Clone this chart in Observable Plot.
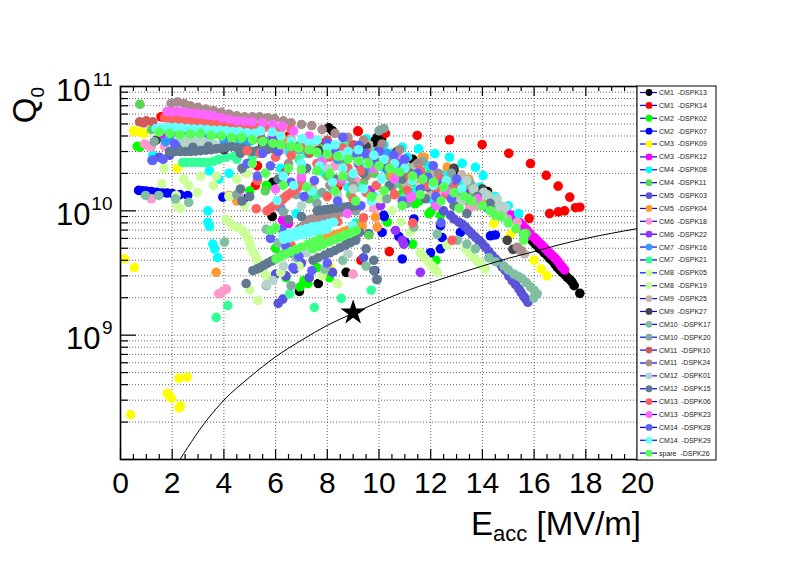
<!DOCTYPE html>
<html>
<head>
<meta charset="utf-8">
<script src="https://cdn.jsdelivr.net/npm/d3@7"></script>
<script src="https://cdn.jsdelivr.net/npm/@observablehq/plot@0.6"></script>
<style>
  html, body { margin: 0; padding: 0; background: #fff; }
  #chart { width: 798px; height: 575px; }
  svg text { font-family: "Liberation Sans", Arial, Helvetica, sans-serif; }
</style>
</head>
<body>
<div id="chart"></div>
<script>
// ---------------- data: [E_acc (MV/m), Q0] per cavity ----------------
const CM1_DSPK13 = [[8.06,4.65e10],[8.2,4.4e10],[9.93,3.9e10],[9.8,3.6e10],[9.78,3.5e10],[10.1,3.75e10],[5.9,1.7e10],[5.87,9.0e9],[7.65,2.6e9],[8.73,3.2e9],[6.92,2.25e9],[14.2,1.43e10],[12.9,2.1e10],[11.3,2.6e10],
  [15.6,6.5e9],[15.75,6.2e9],[15.86,5.96e9],[15.92,5.8e9],[15.99,5.6e9],[16.05,5.4e9],[16.12,5.26e9],[16.2,5.0e9],[16.31,4.8e9],[16.4,4.6e9],[16.51,4.37e9],[16.6,4.15e9],[16.7,3.98e9],[16.8,3.75e9],[16.89,3.52e9],[17.0,3.35e9],[17.09,3.2e9],[17.2,3.05e9],[17.28,2.92e9],[17.38,2.8e9],[17.47,2.67e9],[17.55,2.5e9],[17.77,2.17e9]];
const CM1_DSPK14 = [[1.57,5.7e10],[2.0,5.6e10],[3.76,5.5e10],[4.3,5.2e10],[6.5,4.0e10],[7.8,3.5e10],[9.18,4.4e10],[9.2,4.35e10],[10.25,4.2e10],[5.22,1.6e10],[5.3,2.3e10],[8.4,1.55e10],[6.2,1.2e10],[9.3,4.0e9],[10.4,4.7e9],
  [11.48,4.04e10],[12.73,3.73e10],[13.99,3.41e10],[15.02,2.9e10],[15.86,2.4e10],[16.47,1.93e10],[16.93,1.58e10],[17.38,1.29e10],[17.77,1.07e10],[17.6,1.06e10],[17.18,1.0e10],[16.94,9.8e9],[16.6,9.5e9],[15.81,8.7e9]];
const CM2_DSPK02 = [[0.65,3.3e10],[0.75,3.25e10],[5.67,1.57e10],[5.64,1.6e10],[7.25,2.6e9],[8.08,2.9e9],[6.95,2.45e9],[7.1,2.75e9],[6.4,2.9e9],[10.9,1.38e10],[11.0,1.35e10],[12.0,9.8e9],[11.93,9.5e9],[12.38,9.2e9],[10.32,8.1e9],[11.4,1.14e10],[11.55,1.2e10],[11.3,5.4e9],[12.2,4.0e9],[3.3,4.3e10],[6.6,3.1e10],[8.8,5.5e9],[6.0,5.0e9],[7.6,3.5e9],[5.0,1.45e10]];
const CM2_DSPK07 = [[0.7,1.46e10],[0.85,1.45e10],[1.0,1.44e10],[1.2,1.43e10],[1.4,1.41e10],[1.6,1.4e10],[1.8,1.39e10],[2.0,1.38e10],[2.3,1.35e10],[2.6,1.33e10],[3.96,1.29e10],[4.77,1.25e10],[10.19,9.2e9],[10.77,6.2e9],[11.0,5.6e9],[11.35,8.6e9],[9.6,6.5e9],[10.12,6.7e9],[10.9,4.1e9],[12.38,7.6e9],[12.44,6.1e9],[11.99,4.6e9],[12.38,4.95e9],[13.15,6.7e9],[14.31,6.3e9],[14.5,6.4e9],[9.83,3.3e9],[10.2,9.0e9]];
const CM3_DSPK09 = [[0.15,4.1e9],[0.54,3.5e9],[2.26,4.5e8],[2.58,4.6e8],[1.81,3.4e8],[1.87,3.3e8],[1.97,3.1e8],[2.26,2.6e8],[2.32,2.7e8],[0.39,2.3e8],[0.51,4.4e10],[0.6,4.35e10],[0.75,4.3e10],[0.9,4.2e10],[2.2,2.2e10],[16.0,4.0e9],[16.27,3.4e9],[16.5,3.0e9],[14.44,7.9e9],[15.1,6.5e9],[8.08,3.6e9]];
const CM3_DSPK12 = [[1.7,4.0e10],[6.27,8.4e9],[7.9,8.6e9],[6.5,7.9e9],[14.7,1.08e10],[14.9,1.0e10],[15.09,9.24e9],[15.2,8.9e9],[15.28,8.6e9],[15.4,8.2e9],[15.47,7.9e9],[15.55,7.6e9],[15.63,7.3e9],[15.72,7.0e9],[15.83,6.6e9],[15.9,6.3e9],[16.02,6.07e9],[16.1,5.8e9],[16.18,5.6e9],[16.28,5.35e9],[16.38,5.1e9],[16.46,4.9e9],[16.54,4.7e9],[16.64,4.5e9],[16.74,4.3e9],[16.82,4.15e9],[16.89,4.0e9],[16.97,3.8e9],[17.05,3.6e9],[17.1,3.5e9],[17.18,3.35e9]];
const CM4_DSPK08 = [[1.25,2.8e10],[3.38,1.0e10],[3.38,8.1e9],[3.44,7.5e9],[3.57,5.4e9],[3.64,4.95e9],[3.76,4.2e9],[4.6,3.5e10],[5.0,3.6e10],[5.7,3.3e10],[6.5,3.0e10],[7.2,2.9e10],[7.8,2.7e10],[8.4,2.5e10],[8.6,3.3e10],[9.0,2.8e10],[9.5,3.8e10],[9.8,3.0e10],[10.2,3.4e10],[10.5,2.9e10],[11.1,2.7e10],[11.9,2.3e10],[12.6,2.0e10],[13.3,1.75e10],[13.9,1.55e10],[14.5,1.3e10],[15.0,1.1e10],[15.4,9.5e9],
  [10.9,3.25e10],[11.53,3.15e10],[12.16,2.88e10],[12.73,2.7e10],[13.22,2.41e10],[13.73,2.24e10],[14.03,1.92e10],[9.35,2.05e10],[8.2,1.5e10],[10.6,1.65e10],[11.4,1.45e10],[12.0,1.25e10],[6.8,9.5e9],[7.6,8.8e9],[9.1,8.0e9],
  [6.2,2.2e10],[7.0,1.7e10],[7.9,2.0e10],[8.8,1.55e10],[9.8,1.3e10],[3.44,2.1e10],[3.8,1.8e10],[4.2,2.0e10],[10.2,2.2e10],[11.1,2.0e10],[12.5,1.55e10],[13.5,1.2e10],[14.8,1.0e10]];
const CM4_DSPK11 = [[0.75,7.2e10],[1.2,4.5e10],[1.5,4.4e10],[1.8,4.45e10],[2.1,4.3e10],[2.4,4.35e10],[2.7,4.2e10],[3.0,4.25e10],[3.3,4.1e10],[3.6,4.15e10],[3.9,4.0e10],[4.2,3.9e10],[4.5,3.95e10],[4.8,3.8e10],[5.1,3.7e10],[5.4,3.75e10],[5.7,3.6e10],[6.0,3.5e10],[6.3,3.45e10],[6.6,3.3e10],[6.9,3.35e10],[7.2,3.2e10],[7.5,3.1e10],[7.8,3.15e10],[8.1,3.0e10],[8.4,2.9e10],[8.7,2.95e10],[9.0,2.8e10],[9.3,2.75e10],[9.6,2.6e10],[9.9,2.5e10],[10.2,2.45e10],[10.5,2.35e10],[10.8,2.3e10],[11.1,2.2e10],[11.5,2.1e10],[11.9,1.95e10],[12.3,1.85e10],[12.7,1.7e10],[13.0,1.6e10],[13.4,1.45e10],[13.7,1.35e10],[14.1,1.2e10],[14.5,1.1e10],
  [6.1,1.15e10],[7.3,1.25e10],[8.9,1.35e10],[15.7,6.6e9],[9.6,6.4e9],[8.0,1.9e10],[9.4,1.7e10],[10.9,1.6e10],[5.6,1.45e10],
  [10.4,1.9e10],[11.3,1.7e10],[12.1,1.45e10],[12.8,1.3e10],[13.5,1.15e10],[6.5,5.8e9],[7.7,6.8e9],[9.2,7.8e9],[8.5,2.3e10],[9.8,2.0e10]];
const CM5_DSPK03 = [[1.22,2.55e10],[1.5,2.7e10],[1.9,2.8e10],[6.1,1.8e9],[6.28,1.95e9],[6.73,3.4e9],[6.0,3.1e9],[6.4,3.0e9],[7.0,3.8e9],[7.3,2.9e9],[8.2,3.2e9],[9.4,4.2e9],[12.2,1.1e10],[12.5,1.0e10],[12.77,9.2e9],[12.9,8.6e9],[13.09,8.1e9],[13.22,7.8e9],[13.35,7.4e9],[13.48,6.9e9],[13.6,6.5e9],[13.73,6.15e9],[13.86,5.8e9],[13.99,5.45e9],[14.12,5.1e9],[14.25,4.7e9],[14.38,4.37e9],[14.5,4.1e9],[14.63,3.86e9],[14.76,3.55e9],[14.89,3.3e9],[15.02,3.0e9],[15.15,2.75e9],[15.28,2.55e9],[15.41,2.36e9],[15.5,2.2e9],[15.6,2.04e9],[15.68,1.95e9],[15.76,1.84e9]];
const CM5_DSPK04 = [[2.9,5.0e10],[3.7,3.2e9],[4.2,1.33e10],[4.5,1.2e10],[7.42,1.5e10],[9.93,7.4e9],[11.67,2.7e10],[11.75,2.7e10],[12.64,2.25e10],[13.47,1.8e10],[9.86,8.9e9],[7.9,6.0e9],[8.05,6.15e9],[8.2,6.3e9],[8.35,6.45e9],[8.5,6.6e9],[8.65,6.8e9],[8.8,7.0e9],[8.95,7.15e9],[9.1,7.3e9],[9.35,7.5e9],[6.3,3.7e10],[10.6,1.35e10],[12.9,1.6e10],[11.6,1.8e10],[10.5,1.9e10],[14.1,1.25e10]];
const CM6_DSPK18 = [[0.93,3.45e10],[1.1,3.3e10],[1.19,3.25e10],[1.7,3.3e10],[1.19,1.25e10],[3.8,2.15e9],[3.95,2.25e9],[4.1,2.35e9],[4.84,2.05e10],[4.6,1.35e10],[7.0,2.0e10],[9.1,1.75e10],[11.2,1.29e10],[12.4,1.3e10],[13.5,1.05e10],[15.35,8.1e9],[8.99,3.1e9],[6.2,3.1e10],[8.3,2.3e10],[6.8,1.55e10],[9.8,1.05e10]];
const CM6_DSPK22 = [[10.06,1.1e10],[9.67,1.46e10],[10.9,5.8e9],[10.96,5.4e9],[10.64,6.95e9],[11.6,3.2e9],[5.9,3.9e10],[7.2,3.4e10],[12.9,1.55e10],[13.3,1.4e10],[7.96,2.95e10],[6.6,4.6e9],[9.2,2.4e10]];
const CM7_DSPK16 = [[1.74,3.6e10],[1.9,3.8e10],[2.3,3.75e10],[2.5,4.6e10],[3.4,4.0e10],[4.0,3.7e10],[4.9,3.6e10],[5.5,3.7e10],[5.6,3.3e10],[6.8,3.2e10],[8.4,2.6e10],[9.5,2.2e10],[11.1,1.9e10],[12.0,1.6e10],[13.3,1.3e10],[14.2,1.05e10],[15.0,8.5e9],[6.2,1.05e10],[7.7,9.0e9],[4.4,4.5e10],[10.3,2.9e10]];
const CM7_DSPK21 = [[2.41,2.45e10],[2.57,2.45e10],[2.73,2.45e10],[2.9,2.45e10],[3.06,2.45e10],[3.22,2.45e10],[3.38,2.45e10],[3.6,2.5e10],[3.8,2.6e10],[4.1,2.7e10],[4.4,2.75e10],[3.7,1.39e9],[4.15,1.73e9],[7.5,1.67e9],[8.54,1.98e9],[9.7,2.3e9],[6.54,2.15e9],[4.5,2.6e10],[5.1,2.7e10],[8.7,3.5e10],[10.6,2.2e10],[12.6,1.5e10],[6.9,2.6e10],[7.6,1.35e10],[9.2,1.55e10],[11.0,1.3e10]];
const CM8_DSPK05 = [[1.6,1.65e10],[1.68,2.2e10],[2.15,1.33e10],[2.19,1.1e10],[2.32,1.04e10],[2.45,1.8e10],[2.64,1.6e10],[2.97,1.4e10],[3.7,1.9e10],[4.5,1.8e10],[4.9,2.0e10],[4.09,8.6e9],[4.2,8.1e9],[4.35,7.6e9],[4.55,7.3e9],[4.73,6.95e9],[4.83,6.5e9],[4.93,6.0e9],[5.0,5.5e9],[5.05,5.0e9],[5.15,4.6e9],[5.25,4.2e9],[5.32,3.9e9],[5.38,3.6e9],[5.5,3.3e9],[5.64,3.0e9],[5.31,1.9e9],[5.0,2.3e9],[6.2,3.2e9],[6.9,3.6e9],[7.8,3.0e9],[8.4,2.6e9]];
const CM8_DSPK19 = [[11.6,4.6e9],[11.7,4.35e9],[11.8,4.1e9],[11.93,3.85e9],[12.06,3.6e9],[12.15,3.4e9],[12.25,3.2e9],[13.35,4.95e9],[13.5,4.55e9],[13.67,4.2e9],[13.77,4.0e9],[13.86,3.86e9],[14.0,3.6e9],[14.12,3.4e9],[10.06,1.25e10],[10.5,1.0e10],[11.2,6.7e9],[10.83,8.1e9],[12.63,5.3e9],[3.1,1.9e10],[3.6,1.6e10],[4.2,1.3e10],[4.8,1.1e10]];
const CM9_DSPK25 = [[3.2,4.9e10],[4.3,4.6e10],[5.2,4.0e10],[6.6,3.8e10],[7.5,3.3e10],[8.8,3.1e10],[10.4,2.5e10],[12.2,2.0e10],[13.6,1.6e10],[14.4,1.2e10],[14.6,1.0e10],[14.77,9.4e9],[14.96,8.6e9],[15.41,4.8e9],[15.63,4.5e9],[9.6,3.4e10],[11.4,2.3e10],[11.0,1.7e10],[12.0,1.4e10],[13.0,1.25e10],[13.8,1.1e10],[14.2,1.35e10],[13.2,1.95e10]];
const CM9_DSPK27 = [[1.38,3.7e10],[4.0,3.1e10],[5.5,3.4e10],[7.67,3.05e10],[8.77,2.6e10],[9.5,3.3e10],[10.7,3.0e10],[12.9,2.2e10],[14.0,1.5e10],[14.96,5.8e9],[15.18,4.9e9]];
const CM10_DSPK17 = [[0.97,1.33e10],[1.48,1.33e10],[2.13,1.25e10],[2.64,1.17e10],[4.02,5.6e9],[5.64,7.1e9],[6.1,5.5e9],[6.8,4.2e9],[7.9,3.4e9],[8.6,4.0e9],[9.5,3.6e9],[11.35,7.4e9],[12.25,6.5e9],[13.03,5.8e9],[13.4,5.4e9],[13.73,4.95e9],[14.25,4.2e9],[14.5,3.9e9],[14.83,3.6e9],[15.0,3.35e9],[15.22,3.1e9],[15.38,2.98e9],[15.54,2.85e9],[15.7,2.65e9],[15.86,2.45e9],[16.0,2.3e9],[16.12,2.15e9],[15.99,2.0e9]];
const CM10_DSPK20 = [[1.3,3.6e10],[2.9,3.3e10],[4.6,3.1e10],[6.9,3.1e10],[8.5,2.7e10],[10.19,4.6e10],[10.0,4.4e10],[11.7,2.5e10],[12.8,2.0e10],[13.5,1.7e10],[6.3,9.8e9],[6.6,2.5e9],[5.64,2.5e9],[4.5,1.35e10],[9.9,2.8e9],[7.8,1.4e10],[6.8,1.35e10],[7.6,1.15e10],[9.1,1.0e10],[10.3,1.25e10],[11.1,1.15e10],[8.9,1.85e10],[9.9,1.6e10],[12.0,1.7e10],[13.0,1.45e10]];
const CM11_DSPK10 = [[0.74,5.2e10],[0.9,5.1e10],[1.0,5.3e10],[1.25,5.2e10],[5.4,4.1e10],[9.0,3.4e10],[6.38,2.05e10],[7.3,2.9e10],[8.0,3.7e10],[10.0,3.1e10],[11.0,2.6e10],[12.6,1.6e10],[7.25,5.1e9]];
const CM11_DSPK24 = [[1.96,7.3e10],[2.2,7.5e10],[2.45,7.3e10],[2.7,7.0e10],[3.0,6.8e10],[3.3,6.6e10],[3.6,6.4e10],[3.9,6.2e10],[4.2,6.0e10],[4.5,5.8e10],[4.8,5.7e10],[5.1,5.7e10],[5.38,5.7e10],[5.7,5.6e10],[5.96,5.5e10],[6.3,5.3e10],[6.6,5.1e10],[7.0,4.95e10],[7.4,4.85e10],[7.8,4.5e10],[8.3,4.2e10],[8.8,3.9e10],[9.4,3.7e10],[10.12,3.45e10],[10.8,3.1e10],
  [7.22,8.4e9],[7.4,8.6e9],[7.6,8.8e9],[7.8,9.0e9],[8.0,9.2e9],[8.2,9.4e9],[8.4,9.6e9],[8.55,9.8e9],[8.7,1.0e10],[8.85,1.03e10],[9.02,1.06e10],
  [6.92,7.2e9],[7.05,7.5e9],[7.2,7.8e9],[7.35,8.1e9],[7.5,8.5e9],[7.62,8.85e9],[7.75,9.2e9],[7.86,9.5e9],[7.96,9.75e9],
  [15.35,5.1e9],[15.5,4.8e9],[11.5,2.4e10],[12.3,2.0e10],[6.5,2.4e10],[9.0,1.6e10],[7.0,1.8e10],[8.1,1.6e10],[9.5,1.9e10],[10.5,1.55e10],[11.0,2.1e10],[12.7,1.6e10]];
const CM12_DSPK01 = [[2.3,3.9e10],[2.45,3.7e10],[2.6,3.8e10],[2.75,3.6e10],[2.9,3.7e10],[3.05,3.5e10],[3.2,3.6e10],[3.35,3.45e10],[3.5,3.55e10],[3.65,3.4e10],[2.5,3.4e10],[3.0,3.3e10],
  [13.67,1.5e10],[13.99,1.33e10],[14.05,1.41e10],[14.25,1.29e10],[14.5,1.21e10],[14.57,1.25e10],[14.7,1.1e10],[14.89,1.07e10],[14.77,8.9e9],[14.57,9.4e9],[5.64,2.55e9],[5.9,2.75e9],[6.6,6.6e9],[7.0,1.1e10],[8.0,2.2e10],[9.2,2.6e10],
  [12.5,1.5e10],[13.2,1.2e10],[13.4,1.75e10],[6.3,3.6e9],[7.2,4.6e9],[8.8,4.5e9],[9.0,1.5e10],[8.4,1.35e10]];
const CM12_DSPK15 = [[1.9,3.0e10],[2.1,3.0e10],[2.3,3.0e10],[2.5,3.0e10],[2.7,3.0e10],[2.9,3.02e10],[3.1,3.05e10],[3.3,3.08e10],[3.5,3.1e10],[3.7,3.15e10],[3.9,3.2e10],[4.1,3.25e10],[4.3,3.3e10],[4.5,3.25e10],[4.7,3.2e10],[4.9,3.1e10],[5.1,3.0e10],[5.3,3.05e10],[5.5,3.1e10],[5.7,3.12e10],[5.9,3.15e10],[2.2,3.2e10],[2.8,3.25e10],[3.4,3.3e10],
  [4.64,2.9e10],[4.64,1.5e10],[4.7,2.2e10],[4.7,1.2e10],[5.0,1.3e10],
  [5.12,3.3e9],[5.27,3.4e9],[5.4,3.5e9],[5.55,3.65e9],[5.7,3.8e9],[5.85,3.95e9],[6.0,4.1e9],[6.17,4.3e9],[6.35,4.5e9],[6.5,4.65e9],[6.67,4.8e9],
  [7.61,1.0e10],[7.75,1.01e10],[7.9,1.02e10],[8.05,1.03e10],[8.2,1.04e10],[8.35,1.05e10],[8.5,1.06e10],[8.65,1.07e10],[8.8,1.08e10],[8.95,1.09e10],[9.09,1.1e10],
  [7.45,4.0e9],[7.65,4.2e9],[7.9,4.4e9],[8.1,4.6e9],[8.3,4.8e9],[8.5,5.05e9],[8.7,5.3e9],[8.9,5.55e9],[9.1,5.8e9],
  [9.25,6.7e9],[9.5,4.95e9],[9.8,4.0e9],[9.93,2.8e9],[9.8,3.3e9],[4.86,2.6e9],[6.5,8.5e9],[7.0,9.0e9],[10.4,1.6e10],[11.8,1.25e10],[12.9,1.1e10],[13.4,9.5e9],
  [6.1,1.8e10],[7.2,2.2e10],[8.3,1.8e10],[9.4,2.0e10],[10.9,1.8e10],[11.9,1.55e10],[11.2,2.0e10],[12.4,1.6e10],[13.8,1.3e10],[14.3,1.15e10]];
const CM13_DSPK06 = [[1.7,5.6e10],[1.9,5.5e10],[2.1,5.45e10],[2.3,5.4e10],[2.5,5.4e10],[2.7,5.35e10],[2.9,5.3e10],[3.1,5.3e10],[3.3,5.25e10],[3.5,5.2e10],[3.7,5.1e10],[3.9,5.05e10],[4.1,5.0e10],[4.3,4.9e10],[4.5,4.9e10],[4.7,4.8e10],[5.0,4.8e10],[5.3,4.75e10],[5.6,4.7e10],[5.9,4.65e10],[6.2,4.6e10],[6.6,4.5e10],[2.2,5.1e10],[2.6,5.0e10],[3.0,5.0e10],[3.4,4.9e10],[3.8,4.8e10],
  [4.9,3.05e10],[5.4,2.9e10],[6.0,2.7e10],[6.6,2.8e10],[7.1,3.3e10],[7.6,2.4e10],[8.1,2.7e10],[8.6,3.2e10],[9.28,2.1e10],[9.6,2.9e10],[10.3,2.5e10],[10.83,2.4e10],[11.1,1.46e10],[11.2,1.9e10],[11.8,1.6e10],[12.4,1.8e10],[13.0,1.5e10],[8.51,1.7e10],[5.3,1.75e10],[5.25,1.04e10],
  [5.67,1.0e10],[5.8,1.04e10],[5.9,1.08e10],[6.0,1.12e10],[6.1,1.16e10],[6.2,1.2e10],[6.3,1.25e10],[6.4,1.3e10],[6.5,1.35e10],[6.62,1.41e10],[6.75,1.48e10],[6.85,1.54e10],[6.96,1.6e10],
  [12.83,5.8e9],[11.3,8.0e9],[7.3,1.5e10],[8.0,1.3e10],[9.0,1.25e10],[9.9,1.6e10],[10.6,1.35e10],[6.6,5.3e9],[8.4,8.2e9],[9.4,8.8e9],[8.8,2.2e10],[9.5,1.4e10],[11.6,2.1e10],[12.2,1.5e10],[12.6,1.35e10]];
const CM13_DSPK23 = [[1.8,6.3e10],[2.0,6.25e10],[2.2,6.3e10],[2.4,6.2e10],[2.6,6.15e10],[2.8,6.1e10],[3.0,6.0e10],[3.2,5.95e10],[3.4,5.9e10],[3.6,5.8e10],[3.9,5.6e10],[4.2,5.45e10],[4.5,5.3e10],[4.8,5.25e10],[5.1,5.2e10],[5.5,5.1e10],[5.9,4.95e10],[6.26,4.8e10],[6.7,4.4e10],[7.3,4.0e10],
  [7.8,2.5e10],[8.57,1.8e10],[8.77,9.5e9],[11.28,1.3e10],[11.2,1.28e10],[12.2,1.1e10],[9.8,2.2e10],[10.6,1.8e10],[6.0,1.5e10],[7.0,1.85e10],[10.8,2.6e10],[12.6,1.45e10],[13.8,1.25e10]];
const CM14_DSPK28 = [[1.25,2.55e10],[1.65,2.6e10],[2.09,3.45e10],[6.67,3.5e9],[6.25,7.1e9],[9.15,2.9e10],[9.22,3.35e10],[9.48,2.9e10],[9.8,2.55e10],[10.57,2.8e10],[10.7,2.4e10],[4.9,2.4e10],[7.1,1.3e10],[8.6,3.9e10],[12.1,2.3e10],[6.9,4.3e9],
  [8.0,3.5e10],[8.3,3.0e10],[10.0,3.0e10],[10.3,2.2e10],[11.0,2.6e10],[11.5,2.0e10],[12.5,1.7e10],[13.0,1.8e10],[5.5,2.9e10],[6.1,3.0e10],[7.5,1.75e10],[5.8,6.0e9],[6.4,5.2e9],[12.4,8.0e9],
  [6.6,1.7e10],[8.4,1.2e10],[9.3,1.1e10],[10.9,1.2e10],[11.6,1.5e10],[12.8,1.25e10],[7.4,3.3e9],[8.0,3.8e9],[5.3,1.9e10],[5.8,2.3e10],[11.9,1.85e10],[12.2,1.3e10]];
const CM14_DSPK29 = [[1.38,4.6e10],[1.6,4.65e10],[1.85,4.7e10],[2.1,4.7e10],[2.35,4.65e10],[2.6,4.6e10],[2.85,4.55e10],[3.1,4.55e10],[3.35,4.5e10],[3.6,4.45e10],[3.85,4.45e10],[4.1,4.4e10],[4.35,4.35e10],[4.6,4.35e10],[4.9,4.25e10],[5.2,4.2e10],[5.42,4.4e10],[5.87,4.3e10],[6.2,4.0e10],[6.6,3.6e10],[7.03,3.8e10],[7.3,3.5e10],[7.61,3.7e10],[8.0,3.2e10],[8.3,3.4e10],[8.51,2.8e10],[8.8,3.0e10],[9.2,3.1e10],[9.54,2.4e10],[9.8,2.8e10],[10.2,2.6e10],[10.6,2.4e10],[11.0,2.2e10],[7.0,2.4e10],[7.7,2.3e10],[9.0,2.0e10],[6.3,1.9e10],[6.06,1.21e10],[12.6,1.75e10],[13.2,1.5e10],
  [6.7,1.6e10],[7.4,1.45e10],[8.2,1.7e10],[9.4,1.5e10],[10.1,1.8e10],[11.3,1.75e10],[12.1,1.6e10],[8.6,2.2e10],[9.7,1.2e10],
  [6.28,6.3e9],[6.45,6.45e9],[6.6,6.6e9],[6.8,6.8e9],[7.0,7.0e9],[7.2,7.2e9],[7.4,7.4e9],[7.6,7.5e9],[7.85,7.7e9],[8.05,7.9e9],[8.25,8.1e9],
  [6.32,5.9e9],[6.55,6.05e9],[6.8,6.25e9],[7.05,6.45e9],[7.3,6.65e9],[7.55,6.8e9],[7.8,7.0e9],[8.0,7.15e9],[8.99,7.6e9]];
const spare_DSPK26 = [[1.5,4.3e10],[1.9,4.2e10],[2.3,4.1e10],[2.7,4.15e10],[3.1,4.2e10],[3.5,4.05e10],[3.9,4.0e10],[4.3,3.9e10],[4.7,3.9e10],[5.1,3.75e10],[5.5,3.6e10],[5.9,3.5e10],[6.2,3.4e10],[6.6,3.3e10],[6.9,3.2e10],[7.3,3.1e10],[7.6,2.95e10],[8.0,2.85e10],[8.4,2.75e10],[8.8,2.6e10],[9.2,2.5e10],[9.6,2.4e10],[10.0,2.3e10],[10.4,2.2e10],[10.8,2.05e10],[11.3,1.9e10],[11.7,1.8e10],[12.1,1.7e10],[12.5,1.55e10],[12.9,1.4e10],[13.3,1.3e10],[13.6,1.2e10],[14.0,1.1e10],[14.3,1.0e10],[14.7,9.0e9],[15.0,8.0e9],[15.3,7.2e9],[15.6,6.5e9],
  [6.5,2.2e10],[7.0,2.15e10],[7.6,2.1e10],[8.1,2.0e10],[8.6,1.9e10],[5.1,2.4e10],[5.6,2.0e10],[9.7,1.3e10],[10.9,1.1e10],
  [6.3,1.6e10],[7.2,1.55e10],[8.3,1.45e10],[9.1,1.2e10],[10.2,1.45e10],[11.6,1.35e10],[12.4,1.2e10],[13.1,1.05e10],
  [6.02,4.1e9],[6.2,4.3e9],[6.4,4.5e9],[6.6,4.7e9],[6.8,4.9e9],[7.0,5.1e9],[7.25,5.4e9],[7.5,5.65e9],[7.7,5.9e9],
  [7.44,4.95e9],[7.65,5.15e9],[7.85,5.4e9],[8.1,5.65e9],[8.3,5.9e9],[8.5,6.15e9],[8.7,6.4e9],[8.9,6.65e9],[9.12,6.95e9],
  [5.83,6.95e9],[6.0,7.3e9],[14.5,9.2e9],[15.6,5.8e9]];

// series labels and colours (legend order = draw order)
const seriesNames = ["CM1  -DSPK13","CM1  -DSPK14","CM2  -DSPK02","CM2  -DSPK07","CM3  -DSPK09","CM3  -DSPK12","CM4  -DSPK08","CM4  -DSPK11","CM5  -DSPK03","CM5  -DSPK04","CM6  -DSPK18","CM6  -DSPK22","CM7  -DSPK16","CM7  -DSPK21","CM8  -DSPK05","CM8  -DSPK19","CM9  -DSPK25","CM9  -DSPK27","CM10  -DSPK17","CM10  -DSPK20","CM11  -DSPK10","CM11  -DSPK24","CM12  -DSPK01","CM12  -DSPK15","CM13  -DSPK06","CM13  -DSPK23","CM14  -DSPK28","CM14  -DSPK29","spare  -DSPK26"];
const seriesColors = ["#000000","#ff0000","#00ff00","#0000ff","#ffff00","#ff00ff","#00ffff","#59d454","#5954d9","#ff9933","#ff99cc","#9933ff","#3399ff","#33ff99","#ccff99","#ccff99","#c4b6a6","#444444","#80c0a0","#80a8a0","#d05a5a","#a88c8c","#b4d4cc","#607890","#ff6060","#ff66ff","#6060ff","#66ffff","#55ff55"];
const seriesPoints = [CM1_DSPK13,CM1_DSPK14,CM2_DSPK02,CM2_DSPK07,CM3_DSPK09,CM3_DSPK12,CM4_DSPK08,CM4_DSPK11,CM5_DSPK03,CM5_DSPK04,CM6_DSPK18,CM6_DSPK22,CM7_DSPK16,CM7_DSPK21,CM8_DSPK05,CM8_DSPK19,CM9_DSPK25,CM9_DSPK27,CM10_DSPK17,CM10_DSPK20,CM11_DSPK10,CM11_DSPK24,CM12_DSPK01,CM12_DSPK15,CM13_DSPK06,CM13_DSPK23,CM14_DSPK28,CM14_DSPK29,spare_DSPK26];

// black reference curve and the star marker
const limitCurve = [[2.3,1.0e8],[2.6,1.25e8],[3.2,1.9e8],[4,3.0e8],[5,4.6e8],[6,6.7e8],[7,9.1e8],[8,1.2e9],[9,1.5e9],[10,1.85e9],[11,2.25e9],[12,2.65e9],[13,3.1e9],[14,3.6e9],[15,4.15e9],[16,4.7e9],[17,5.35e9],[18,6.0e9],[19,6.6e9],[20,7.2e9]];
const starPoint = [[9.0,1.52e9]];

// axis ticks
const xMajor = [0,2,4,6,8,10,12,14,16,18,20];
const xMinor = d3.range(0, 20.01, 0.5).filter(v => v % 2 !== 0);
const xGrid = [2,4,6,8,10,12,14,16,18];
const yMajor = [1e8,1e9,1e10,1e11];
const yMinor = [8,9,10].flatMap(k => [2,3,4,5,6,7,8,9].map(m => m * 10 ** k));
const yGrid = [...yMinor, 1e9, 1e10];

// ---------------- build ----------------
const W = 798, H = 575, mL = 120, mR = 161, mT = 86, mB = 116;
const innerW = W - mL - mR, innerH = H - mT - mB;
const font = "Liberation Sans, Arial, Helvetica, sans-serif";

const rows = seriesPoints.flatMap((pts, i) => pts.map(([e, q]) => ({e, q, c: seriesColors[i], s: seriesNames[i]})));
const curveRows = limitCurve.map(([e, q]) => ({e, q}));
const starRows = starPoint.map(([e, q]) => ({e, q}));

const grid = {stroke: "#333", strokeOpacity: 0.75, strokeWidth: 1, strokeDasharray: "1,2"};

const plot = Plot.plot({
  width: W, height: H,
  marginLeft: mL, marginRight: mR, marginTop: mT, marginBottom: mB,
  x: {domain: [0, 20], axis: null},
  y: {type: "log", domain: [1e8, 1e11], axis: null},
  color: {type: "identity"},
  style: {fontFamily: font, background: "#fff", color: "#000", overflow: "visible"},
  marks: [
    Plot.ruleX(xGrid, grid),
    Plot.ruleY(yGrid, grid),
    Plot.dot(rows, {x: "e", y: "q", fill: "c", r: 4.8, stroke: "none"}),
    Plot.line(curveRows, {x: "e", y: "q", stroke: "#000", strokeWidth: 1, curve: "monotone-x", clip: true}),
    Plot.dot(starRows, {x: "e", y: "q", symbol: "star", r: 8, fill: "#000", stroke: "none"}),
    // ticks (inside the frame)
    Plot.ruleX(xMajor, {insetTop: innerH - 10, stroke: "#000", strokeWidth: 1.2}),
    Plot.ruleX(xMinor, {insetTop: innerH - 5, stroke: "#000", strokeWidth: 1.2}),
    Plot.ruleX(xMajor, {insetBottom: innerH - 10, stroke: "#000", strokeWidth: 1.2}),
    Plot.ruleX(xMinor, {insetBottom: innerH - 5, stroke: "#000", strokeWidth: 1.2}),
    Plot.ruleY(yMajor, {insetRight: innerW - 16, stroke: "#000", strokeWidth: 1.2}),
    Plot.ruleY(yMinor, {insetRight: innerW - 8, stroke: "#000", strokeWidth: 1.2}),
    Plot.frame({stroke: "#000", strokeWidth: 1.6}),
    // x tick labels
    Plot.text(xMajor, {x: d => d, frameAnchor: "bottom", dy: 33, text: d => String(d), lineAnchor: "bottom", fontSize: 30, fontFamily: font, fill: "#000"}),
    // y tick labels 10^n
    Plot.text([1e10, 1e11], {y: d => d, frameAnchor: "left", dx: -30, dy: 14, text: () => "10", textAnchor: "end", lineAnchor: "bottom", fontSize: 31, fontFamily: font, fill: "#000"}),
    Plot.text([1e9], {y: d => d, frameAnchor: "left", dx: -20, dy: 14, text: () => "10", textAnchor: "end", lineAnchor: "bottom", fontSize: 31, fontFamily: font, fill: "#000"}),
    Plot.text([1e9, 1e10, 1e11], {y: d => d, frameAnchor: "left", dx: -8, dy: -1, text: d => String(Math.round(Math.log10(d))), textAnchor: "end", lineAnchor: "bottom", fontSize: 19, fontFamily: font, fill: "#000"})
  ]
});

document.getElementById("chart").appendChild(plot);
const svg = d3.select(plot);

// axis titles
const xt = svg.append("text").attr("x", 641).attr("y", 535).attr("text-anchor", "end")
  .attr("font-size", 33).attr("fill", "#000").attr("font-family", font);
xt.append("tspan").text("E");
xt.append("tspan").attr("font-size", 22).attr("dy", 6).text("acc");
xt.append("tspan").attr("dy", -6).text(" [MV/m]");

const yt = svg.append("text").attr("transform", "translate(36,87) rotate(-90)").attr("text-anchor", "end")
  .attr("font-size", 33).attr("fill", "#000").attr("font-family", font);
yt.append("tspan").text("Q");
yt.append("tspan").attr("font-size", 19).attr("dy", 8).text("0");

// legend
const lg = svg.append("g").attr("transform", "translate(637,86)").attr("text-anchor", "start");
lg.append("rect").attr("x", 0).attr("y", 0).attr("width", 79).attr("height", 374)
  .attr("fill", "#fff").attr("stroke", "#000").attr("stroke-width", 1);
seriesNames.forEach((name, i) => {
  const yy = 6.5 + i * 12.88;
  lg.append("line").attr("x1", 3).attr("x2", 20).attr("y1", yy).attr("y2", yy).attr("stroke", "#0000ff").attr("stroke-width", 1.2);
  lg.append("circle").attr("cx", 12).attr("cy", yy).attr("r", 3.4).attr("fill", seriesColors[i]);
  lg.append("text").attr("x", 22).attr("y", yy).attr("dy", "0.35em").attr("font-size", 7).attr("fill", "#222")
    .attr("text-anchor", "start").attr("font-family", font).style("white-space", "pre").text(name);
});
</script>
</body>
</html>
